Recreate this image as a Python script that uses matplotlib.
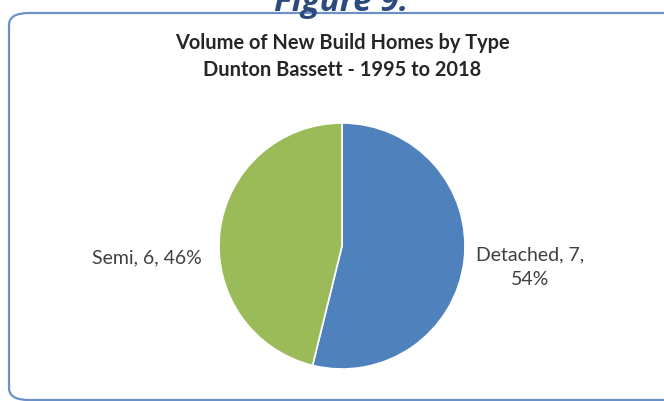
import matplotlib.pyplot as plt
from matplotlib.patches import FancyBboxPatch

# new build homes by type, 1995-2018
types = ["Detached", "Semi"]
counts = [7, 6]
colors = ["#4F81BD", "#9BBB59"]

title_lines = ["Volume of New Build Homes by Type",
               "Dunton Bassett - 1995 to 2018"]

W, H = 664, 401
fig = plt.figure(figsize=(W / 100, H / 100), dpi=100)
fig.patch.set_facecolor("white")

# rounded frame around the chart
frame = FancyBboxPatch((9 / W, 1 / H), (W + 20) / W, (H - 14) / H,
                       boxstyle="round,pad=0,rounding_size=0.03",
                       transform=fig.transFigure, facecolor="none",
                       edgecolor="#6C91C9", linewidth=1.6, clip_on=False,
                       zorder=-1)
fig.patches.append(frame)

fig.text(341 / W, 1 - 11 / H, "Figure 9.", ha="center", va="baseline",
         fontsize=24, fontweight="bold", style="italic", color="#2C4A7C",
         family="Open Sans")

for i, line in enumerate(title_lines):
    fig.text(342 / W, 1 - (43 + 27 * i) / H, line, ha="center", va="center",
             fontsize=14.4, fontweight="bold", color="#262626", family="Lato")

# pie centred at (342, 246) px with radius 123 px
cx, cy, r = 342, 246, 123
ax = fig.add_axes([(cx - r) / W, (H - cy - r) / H, 2 * r / W, 2 * r / H])
wedges, _ = ax.pie(counts, colors=colors, startangle=90, counterclock=False,
                   wedgeprops=dict(edgecolor="white", linewidth=1.2))
ax.set_xlim(-1, 1)
ax.set_ylim(-1, 1)
ax.axis("off")

total = sum(counts)
pct = [round(100 * c / total) for c in counts]

# label positions in pie units
ax.text(1.53, -0.17, f"{types[0]}, {counts[0]},\n{pct[0]}%", ha="center",
        va="center", fontsize=14, color="#404040", family="Lato",
        linespacing=1.55)
ax.text(-1.585, -0.10, f"{types[1]}, {counts[1]}, {pct[1]}%", ha="center",
        va="center", fontsize=14, color="#404040", family="Lato")

fig.savefig("out.png", dpi=100)
